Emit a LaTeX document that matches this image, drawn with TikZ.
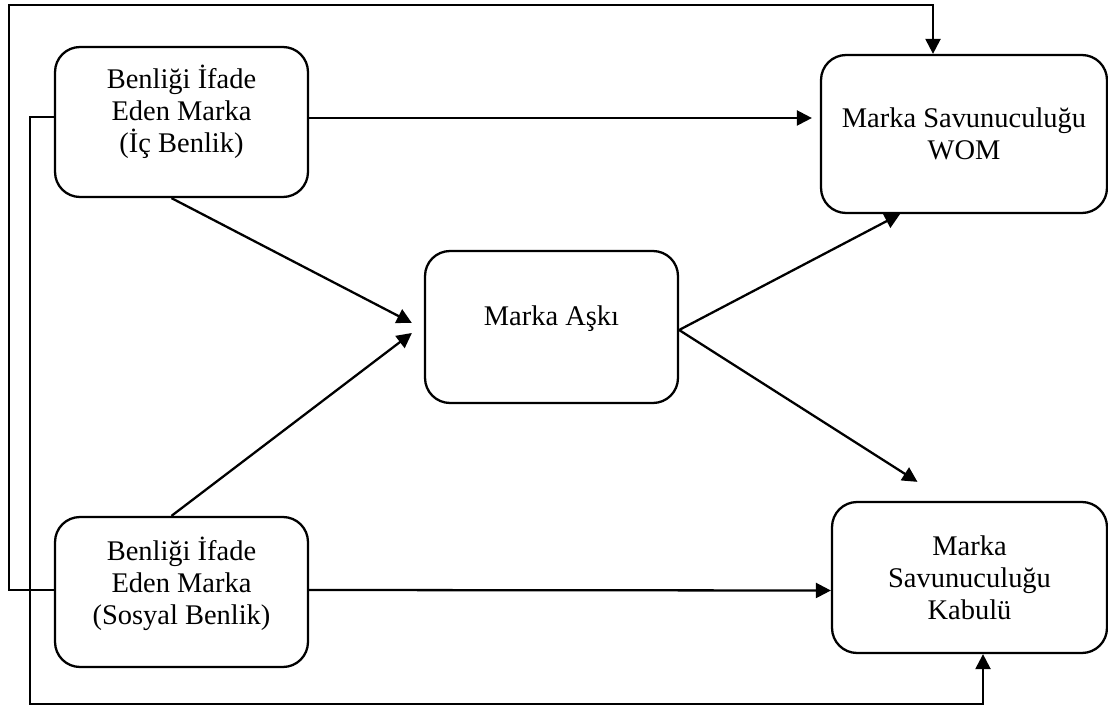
\documentclass[tikz,border=0pt]{standalone}
\usepackage{fontspec}
\setmainfont{Liberation Serif}
\usepackage{tikz}
\usetikzlibrary{arrows.meta, positioning, calc}

\begin{document}
\begin{tikzpicture}[
    x=0.02cm, y=-0.02cm,
    box/.style={rectangle, draw, rounded corners=0.5cm, line width=1.3pt, align=center, fill=white,
        font=\fontsize{16.2}{18.2}\selectfont},
    arrow/.style={-{Triangle[length=0.3cm, width=0.3cm]}, line width=1.3pt},
    rail/.style={line width=1.3pt}
]
    \useasboundingbox (0,0) rectangle (1108,709);

    % Boxes
    \node[box, minimum width=5.06cm, minimum height=3.0cm, text depth=15pt] (icb) at (181.5,122)
        {Benliği İfade\\ Eden Marka\\ (İç Benlik)};
    \node[box, minimum width=5.06cm, minimum height=3.0cm, text depth=12.7pt] (sosb) at (181.5,592)
        {Benliği İfade\\ Eden Marka\\ (Sosyal Benlik)};
    \node[box, minimum width=5.06cm, minimum height=3.04cm, text depth=13.5pt] (ask) at (551.5,327)
        {Marka Aşkı};
    \node[box, minimum width=5.72cm, minimum height=3.16cm] (wom) at (964,134)
        {Marka Savunuculuğu\\ WOM};
    \node[box, minimum width=5.5cm, minimum height=3.02cm] (kabul) at (969.5,577.5)
        {Marka\\ Savunuculuğu\\ Kabulü};

    % Rails on the left
    \coordinate (toprail) at (9,5);
    \coordinate (lowrail) at (30,704);

    % Flow
    \draw[arrow] ($(icb.east)+(0,-4)$) -- ($(wom.west)+(-8,-16)$);
    \draw[arrow] ($(icb.south)+(-10,0)$) -- ($(ask.west)+(-12,-4)$);
    \draw[arrow] ($(sosb.north)+(-10,0)$) -- ($(ask.west)+(-12,6)$);
    \draw[arrow] ($(ask.east)+(0,3)$) -- ($(wom.south)+(-64,0)$);
    \draw[arrow] ($(ask.east)+(0,3)$) -- ($(kabul.north)+(-52,-19)$);
    \draw[arrow] ($(sosb.east)+(0,-2)$) -- ($(kabul.west)+(0,13)$);

    % Feedback lines round the outside
    \draw[arrow] ($(icb.west)+(0,-5)$) -| (lowrail) -| ($(kabul.south)+(13.5,0)$);
    \draw[arrow] ($(sosb.west)+(0,-2)$) -| (toprail) -| ($(wom.north)+(-31,0)$);
\end{tikzpicture}
\end{document}
